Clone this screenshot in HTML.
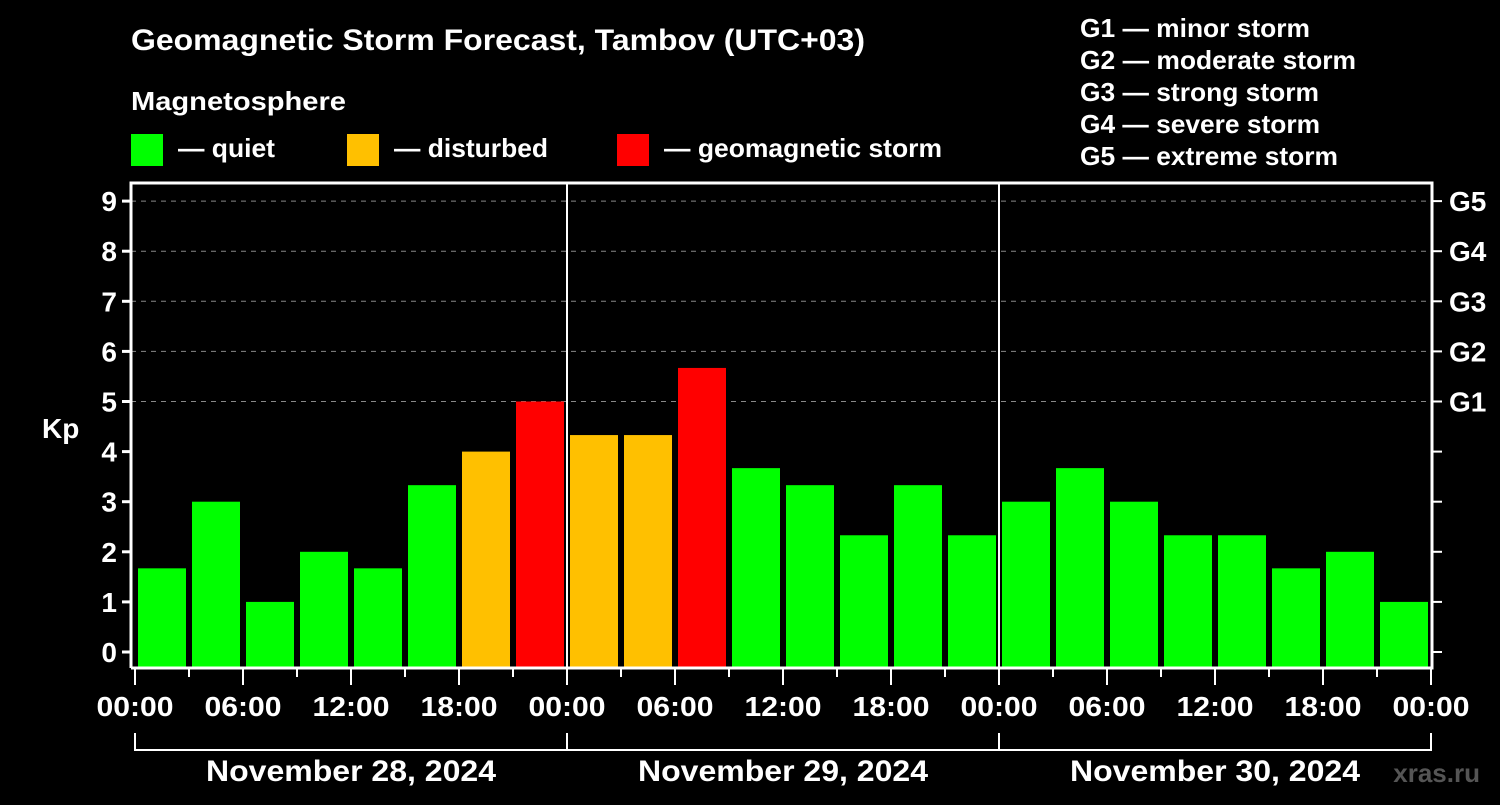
<!DOCTYPE html>
<html><head><meta charset="utf-8"><style>
body{margin:0;background:#000;}
svg text{font-family:"Liberation Sans",Arial,sans-serif;font-weight:bold;fill:#fff;}
</style></head><body>
<svg id="c" width="1500" height="800" xmlns="http://www.w3.org/2000/svg">
<rect width="1500" height="800" fill="#000"/>
<text x="131" y="50" font-size="30" textLength="734" lengthAdjust="spacingAndGlyphs">Geomagnetic Storm Forecast, Tambov (UTC+03)</text>
<text x="131" y="110" font-size="26" textLength="215" lengthAdjust="spacingAndGlyphs">Magnetosphere</text>
<g><rect x="131" y="134" width="32" height="32" fill="#00ff00"/><text x="178" y="157" font-size="26" textLength="97" lengthAdjust="spacingAndGlyphs">— quiet</text></g>
<g><rect x="347" y="134" width="32" height="32" fill="#ffc000"/><text x="394" y="157" font-size="26" textLength="154" lengthAdjust="spacingAndGlyphs">— disturbed</text></g>
<g><rect x="617" y="134" width="32" height="32" fill="#ff0000"/><text x="664" y="157" font-size="26" textLength="278" lengthAdjust="spacingAndGlyphs">— geomagnetic storm</text></g>
<g font-size="26">
<text x="1080" y="37" textLength="230" lengthAdjust="spacingAndGlyphs">G1 — minor storm</text>
<text x="1080" y="69" textLength="276" lengthAdjust="spacingAndGlyphs">G2 — moderate storm</text>
<text x="1080" y="101" textLength="239" lengthAdjust="spacingAndGlyphs">G3 — strong storm</text>
<text x="1080" y="133" textLength="240" lengthAdjust="spacingAndGlyphs">G4 — severe storm</text>
<text x="1080" y="165" textLength="258" lengthAdjust="spacingAndGlyphs">G5 — extreme storm</text>
</g>
<text x="42" y="438" font-size="28">Kp</text>
<text x="1480" y="782" font-size="26" text-anchor="end" style="fill:#555">xras.ru</text>
<g id="plot"></g>
</svg>
<script>
const days = ["November 28, 2024","November 29, 2024","November 30, 2024"];
const kpValues = [1.67,3,1,2,1.67,3.33,4,5, 4.33,4.33,5.67,3.67,3.33,2.33,3.33,2.33, 3,3.67,3,2.33,2.33,1.67,2,1];
const yTicks = [0,1,2,3,4,5,6,7,8,9];
const gLabels = ["G1","G2","G3","G4","G5"];
const xTickLabels = ["00:00","06:00","12:00","18:00"];

(function(){
const NS="http://www.w3.org/2000/svg";
const g=document.getElementById('plot');
const x0=135, step=54, pLeft=131, pRight=1432, pTop=183, pBottom=668;
const xs=i=>x0+i*step;
const ys=v=>652-50.1*v;
function el(t,a){const e=document.createElementNS(NS,t);for(const k in a)e.setAttribute(k,a[k]);g.appendChild(e);return e;}
function color(v){return v>=5?"#ff0000":(v>=4?"#ffc000":"#00ff00");}
yTicks.forEach(v=>{
  if(v>=5){const l=el('line',{x1:pLeft,x2:pRight,y1:ys(v),y2:ys(v),stroke:'#888','stroke-width':1,'stroke-dasharray':'5,5'});
  
  }
  const t=el('line',{x1:pLeft-9,x2:pLeft,y1:ys(v),y2:ys(v),stroke:'#fff','stroke-width':3});
  
  
  const t2=el('line',{x1:pRight,x2:pRight+10,y1:ys(v),y2:ys(v),stroke:'#fff','stroke-width':2});
  
  
  const tx=el('text',{x:pLeft-14,y:ys(v)+10,'font-size':28,'text-anchor':'end'});tx.textContent=v;
  
  
});
gLabels.forEach((s,i)=>{const tx=el('text',{x:1449,y:ys(i+5)+10,'font-size':28});tx.textContent=s;
  
  });
kpValues.forEach((v,i)=>{const b=el('rect',{x:xs(i)+3,y:ys(v),width:48,height:pBottom-ys(v),fill:color(v)});
  
  });
for(let d=1;d<days.length;d++){const l=el('line',{x1:xs(d*8),x2:xs(d*8),y1:pTop,y2:pBottom,stroke:'#fff','stroke-width':2});
  
  }
const f=el('path',{d:`M${pLeft},${pBottom}V${pTop}H${pRight}V${pBottom}H${pLeft}`,fill:'none',stroke:'#fff','stroke-width':3});


for(let i=0;i<=kpValues.length;i++){const major=i%2==0;
  const t=el('line',{x1:xs(i),x2:xs(i),y1:pBottom,y2:pBottom+(major?17:9),stroke:'#fff','stroke-width':2});
  
  
  if(major){const tx=el('text',{x:xs(i),y:716,'font-size':28,'text-anchor':'middle',textLength:77,lengthAdjust:'spacingAndGlyphs'});tx.textContent=xTickLabels[(i/2)%4];
    
    }}
days.forEach((d,k)=>{const a=xs(k*8),b=xs(k*8+8);
  const p=el('path',{d:`M${a},733V750H${b}`+(k==days.length-1?`V733`:''),fill:'none',stroke:'#fff','stroke-width':2});
  
  
  const tx=el('text',{x:(a+b)/2,y:781,'font-size':30,'text-anchor':'middle',textLength:290,lengthAdjust:'spacingAndGlyphs'});tx.textContent=d;
  
  });
})();
</script>
</body></html>
